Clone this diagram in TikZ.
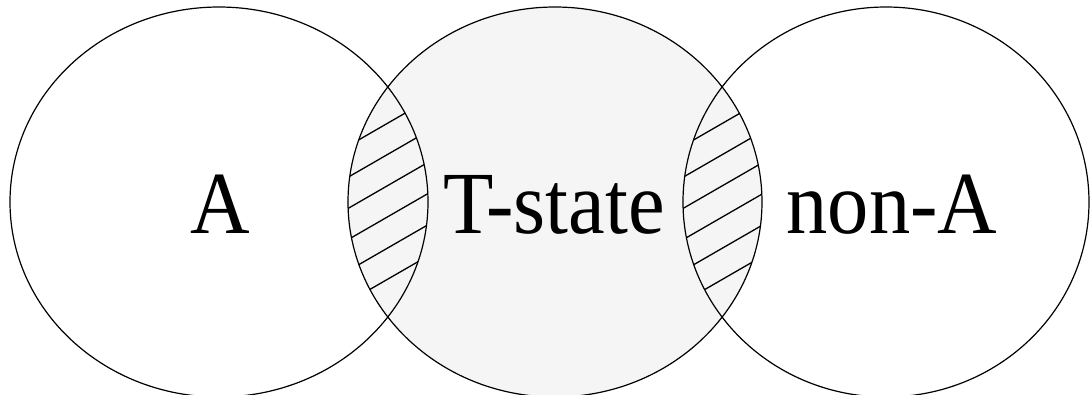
\documentclass[tikz,border=0pt]{standalone}
\usepackage{fontspec}
\setmainfont{Liberation Serif}[FakeStretch=0.93]
\begin{document}
\begin{tikzpicture}[x=1bp,y=-1bp,
  outline/.style={draw=black,line width=1.2bp},
  hatch/.style={draw=black,line width=1.3bp},
  lbl/.style={anchor=base,inner sep=0pt,font=\fontsize{89}{100}\selectfont}]
\useasboundingbox (0,0) rectangle (1091,394);
\fill[white] (0,0) rectangle (1091,394);
\coordinate (cA) at (219,202);
\coordinate (cT) at (555,202);
\coordinate (cN) at (886,202);
% middle fill
\fill[black!4] (cT) ellipse [x radius=207bp, y radius=195bp];
% hatch in left lens
\begin{scope}
  \clip (cA) ellipse [x radius=209bp, y radius=195bp];
  \clip (cT) ellipse [x radius=207bp, y radius=195bp];
  \foreach \yy in {123,154.2,185.4,216.6,247.8,279}
    \draw[hatch] (328,{\yy+34.6}) -- (448,{\yy-34.6});
\end{scope}
% hatch in right lens
\begin{scope}
  \clip (cN) ellipse [x radius=203bp, y radius=195bp];
  \clip (cT) ellipse [x radius=207bp, y radius=195bp];
  \foreach \yy in {123,154.2,185.4,216.6,247.8,279}
    \draw[hatch] (663,{\yy+34.6}) -- (783,{\yy-34.6});
\end{scope}
% outlines
\draw[outline] (cA) ellipse [x radius=209bp, y radius=195bp];
\draw[outline] (cT) ellipse [x radius=207bp, y radius=195bp];
\draw[outline] (cN) ellipse [x radius=203bp, y radius=195bp];
% labels
\node[lbl] (labA) at (220,233) {A};
\node[lbl] (labT) at (554,233) {T-state};
\node[lbl] (labN) at (892,233) {non-A};
\end{tikzpicture}
\end{document}
